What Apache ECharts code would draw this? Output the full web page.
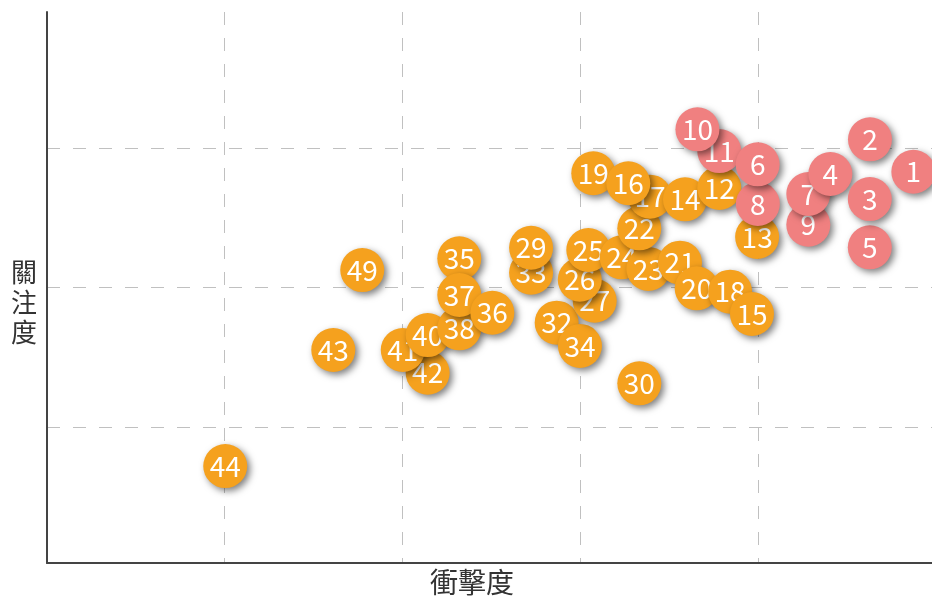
<!DOCTYPE html>
<html>
<head>
<meta charset="utf-8">
<script src="https://cdn.jsdelivr.net/npm/echarts@6/dist/echarts.min.js"></script>
<style>
html,body{margin:0;padding:0;background:#fff;}
#chart{width:932px;height:596px;}
</style>
</head>
<body>
<div id="chart"></div>
<script>
// Items listed in drawing order (first = bottom-most)
var ids = [49, 44, 43, 42, 41, 40, 38, 35, 37, 36, 33, 32, 34, 30, 29, 27, 26, 25, 24, 23, 22, 21, 20, 19, 18, 17, 16, 15, 14, 13, 12, 11, 10, 9, 8, 7, 6, 5, 4, 3, 2, 1];
var impact = {
  1: 4.875, 2: 4.631, 3: 4.63, 4: 4.408, 5: 4.63, 6: 3.999, 7: 4.284, 8: 4.0, 9: 4.284, 10: 3.66,
  11: 3.783, 12: 3.783, 13: 3.996, 14: 3.59, 15: 3.967, 16: 3.271, 17: 3.393, 18: 3.844, 19: 3.074, 20: 3.656,
  21: 3.562, 22: 3.333, 23: 3.384, 24: 3.234, 25: 3.046, 26: 2.998, 27: 3.082, 29: 2.724, 30: 3.333,
  32: 2.868, 33: 2.724, 34: 2.999, 35: 2.32, 36: 2.506, 37: 2.32, 38: 2.32, 40: 2.142,
  41: 2.002, 42: 2.142, 43: 1.611, 44: 1.003, 49: 1.774
};
var attention = {
  1: 2.83, 2: 3.062, 3: 2.634, 4: 2.814, 5: 2.288, 6: 2.883, 7: 2.67, 8: 2.599, 9: 2.45, 10: 3.134,
  11: 2.978, 12: 2.713, 13: 2.362, 14: 2.632, 15: 1.81, 16: 2.747, 17: 2.651, 18: 1.97, 19: 2.819, 20: 1.994,
  21: 2.178, 22: 2.424, 23: 2.133, 24: 2.216, 25: 2.269, 26: 2.056, 27: 1.905, 29: 2.285, 30: 1.313,
  32: 1.748, 33: 2.106, 34: 1.581, 35: 2.209, 36: 1.819, 37: 1.946, 38: 1.707, 40: 1.659,
  41: 1.552, 42: 1.389, 43: 1.552, 44: 0.72, 49: 2.125
};
var highGroupMax = 11; // items 1..11 in the pink group

var xName = '衝擊度';
var yName = '關注度';

var FONT = '"Noto Sans CJK TC", "Noto Sans", sans-serif';
var PINK = '#f08080';
var ORANGE = '#f5a11e';

var series = ids.map(function (id, i) {
  return {
    type: 'scatter',
    z: 2 + i,
    symbol: 'circle',
    symbolSize: 44,
    itemStyle: {
      color: id <= highGroupMax ? PINK : ORANGE,
      shadowColor: 'rgba(0,0,0,0.5)',
      shadowBlur: 7,
      shadowOffsetX: 3,
      shadowOffsetY: 3,
      opacity: 1
    },
    label: {
      show: true,
      position: 'inside',
      formatter: String(id),
      color: '#fff',
      fontSize: 28,
      fontFamily: FONT
    },
    emphasis: {disabled: true},
    data: [[impact[id], attention[id]]]
  };
});

var chart = echarts.init(document.getElementById('chart'), null, {renderer: 'canvas'});
chart.setOption({
  animation: false,
  backgroundColor: '#fff',
  grid: {left: 47, right: 0, top: 12, bottom: 33, containLabel: false, outerBoundsMode: 'none'},
  xAxis: {
    type: 'value',
    min: 0,
    max: 4.98,
    name: xName,
    nameLocation: 'middle',
    nameGap: 5,
    nameTextStyle: {fontSize: 28, color: '#333', fontFamily: FONT, verticalAlign: 'top', padding: [0, 35, 0, 0]},
    axisLine: {show: true, onZero: false, lineStyle: {color: '#444', width: 2}},
    axisTick: {show: false},
    axisLabel: {show: false},
    splitLine: {show: true, showMinLine: false, showMaxLine: false, lineStyle: {color: '#c0c0c0', type: [13, 13], width: 1}}
  },
  yAxis: {
    type: 'value',
    min: 0.025,
    max: 3.975,
    name: '\n' + yName.split('').join('\n'),
    nameLocation: 'middle',
    nameRotate: 0,
    nameGap: 10,
    nameTextStyle: {fontSize: 26, lineHeight: 30, color: '#333', fontFamily: FONT},
    axisLine: {show: true, onZero: false, lineStyle: {color: '#444', width: 2}},
    axisTick: {show: false},
    axisLabel: {show: false},
    splitLine: {show: true, showMinLine: false, showMaxLine: false, lineStyle: {color: '#c0c0c0', type: [13, 13], width: 1}}
  },
  series: series
});
</script>
</body>
</html>
